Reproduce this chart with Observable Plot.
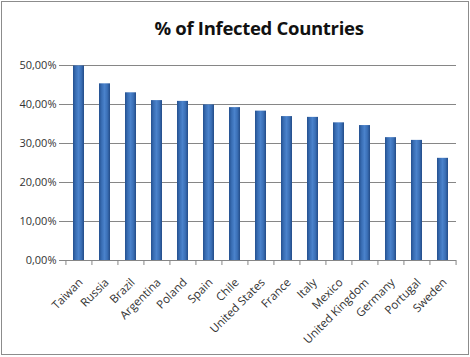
<!DOCTYPE html>
<html>
<head>
<meta charset="utf-8">
<script src="https://cdn.jsdelivr.net/npm/d3@7"></script>
<script src="https://cdn.jsdelivr.net/npm/@observablehq/plot@0.6"></script>
<style>
  html, body { margin: 0; padding: 0; background: #fff; }
  #box { position: absolute; left: 1px; top: 1px; width: 466px; height: 352px; border: 1px solid #8c8c8c; background: #fff; overflow: hidden; }
  #title { height: 48px; box-sizing: border-box; padding-top: 15px; padding-left: 48px; text-align: center;
           font-family: "Open Sans", sans-serif; font-weight: 700; font-size: 18.5px; color: #111; letter-spacing: -0.3px; line-height: 22px; }
  svg text { font-family: "Open Sans", sans-serif; }
</style>
</head>
<body>
<div id="box">
  <div id="title">% of Infected Countries</div>
  <div id="chart"></div>
</div>
<script>
const countries = ["Taiwan", "Russia", "Brazil", "Argentina", "Poland", "Spain", "Chile", "United States", "France", "Italy", "Mexico", "United Kingdom", "Germany", "Portugal", "Sweden"];
const infected = [0.499, 0.453, 0.430, 0.410, 0.408, 0.399, 0.392, 0.383, 0.369, 0.367, 0.353, 0.346, 0.315, 0.308, 0.262];
const yTicks = [0, 0.1, 0.2, 0.3, 0.4, 0.5];

const data = countries.map((c, i) => ({country: c, value: infected[i]}));
const locale = d3.formatLocale({decimal: ",", thousands: ".", grouping: [3], currency: ["", "€"]});
const pct = locale.format(".2%");

const W = 466, H = 304;
const step = (W - 62 - 12) / countries.length;

const chart = Plot.plot({
  width: W,
  height: H,
  marginLeft: 62,
  marginRight: 12,
  marginTop: 15,
  marginBottom: 94,
  style: {fontSize: "11px", color: "#333", background: "transparent"},
  x: {domain: countries, paddingInner: 0.59, paddingOuter: 0.295, label: null},
  y: {domain: [0, 0.5], label: null},
  marks: [
    Plot.gridY(yTicks, {stroke: "#868686", strokeOpacity: 1}),
    Plot.barY(data, {x: "country", y: "value", fill: "url(#barGrad)"}),
    Plot.ruleX(countries, {x: d => d, dx: -step / 2, y1: 0, y2: 0, insetBottom: -5, stroke: "#868686"}),
    Plot.ruleX(countries.slice(-1), {x: d => d, dx: step / 2, y1: 0, y2: 0, insetBottom: -5, stroke: "#868686"}),
    Plot.axisY(yTicks, {tickFormat: pct, tickSize: 5, tickPadding: 3, stroke: "#868686", fill: "#333"}),
    Plot.ruleX([0], {frameAnchor: "left", stroke: "#868686"}),
    Plot.ruleY([0], {stroke: "#868686"}),
    Plot.axisX({tickSize: 0, tickRotate: -45, tickPadding: 20, dx: 2, fontSize: 11.5, fill: "#333"})
  ]
});

const svg = d3.select(chart);
const defs = svg.insert("defs", ":first-child");
const g = defs.append("linearGradient").attr("id", "barGrad").attr("x1", "0").attr("x2", "1").attr("y1", "0").attr("y2", "0");
[[0, "#24508f"], [0.25, "#3a6fb6"], [0.5, "#4a82cb"], [0.75, "#3b70b7"], [1, "#234c88"]].forEach(([o, c]) =>
  g.append("stop").attr("offset", o).attr("stop-color", c));

document.getElementById("chart").appendChild(chart);
</script>
</body>
</html>
